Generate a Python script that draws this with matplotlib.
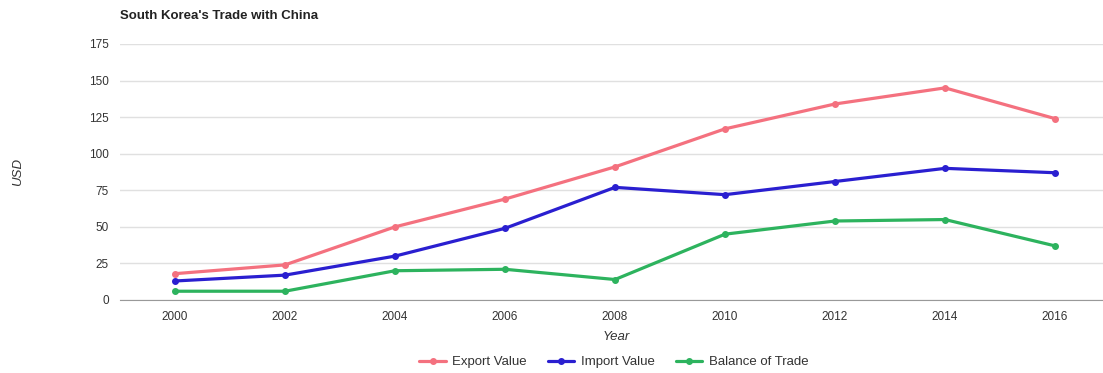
import matplotlib
matplotlib.use("Agg")
import matplotlib.pyplot as plt

plt.rcParams["font.family"] = ["Liberation Sans", "DejaVu Sans"]

years = [2000, 2002, 2004, 2006, 2008, 2010, 2012, 2014, 2016]
export_value = [18, 24, 50, 69, 91, 117, 134, 145, 124]
import_value = [13, 17, 30, 49, 77, 72, 81, 90, 87]
balance_of_trade = [6, 6, 20, 21, 14, 45, 54, 55, 37]

series = [
    ("Export Value", export_value, "#f4717f"),
    ("Import Value", import_value, "#2a1fd0"),
    ("Balance of Trade", balance_of_trade, "#2db35e"),
]

fig = plt.figure(figsize=(11.03, 3.73), dpi=100)
ax = fig.add_axes([120 / 1103, 1 - 300 / 373, 983 / 1103, 256 / 373])

for name, vals, color in series:
    ax.plot(years, vals, color=color, lw=2.3, marker="o", ms=4, label=name,
            solid_capstyle="round")

ax.set_xlim(1999, 1999 + 983 / 55)
ax.set_ylim(0, 175)
ax.set_yticks(range(0, 176, 25))
ax.set_xticks(years)
ax.grid(axis="y", color="#e0e0e0", lw=1)
ax.set_axisbelow(True)
for s in ["top", "right", "left"]:
    ax.spines[s].set_visible(False)
ax.spines["bottom"].set_color("#999999")
ax.tick_params(length=0, labelsize=8.5, colors="#333333")
ax.tick_params(axis="y", pad=8)
ax.tick_params(axis="x", pad=8)

fig.text(120 / 1103, 1 - 16 / 373, "South Korea's Trade with China",
         fontsize=9.5, fontweight="bold", va="center", ha="left", color="#222222")
fig.text(18 / 1103, 1 - 172 / 373, "USD", rotation=90, style="italic",
         fontsize=9.5, va="center", ha="center", color="#333333")
fig.text(616 / 1103, 1 - 337 / 373, "Year", style="italic",
         fontsize=9.5, va="center", ha="center", color="#333333")

handles, labels = ax.get_legend_handles_labels()
fig.legend(handles, labels, loc="center", bbox_to_anchor=(614 / 1103, 1 - 362 / 373),
           ncol=3, frameon=False, fontsize=9.5, handlelength=2.0,
           columnspacing=1.6, handletextpad=0.5, labelcolor="#333333")

fig.savefig("out.png", dpi=100)
